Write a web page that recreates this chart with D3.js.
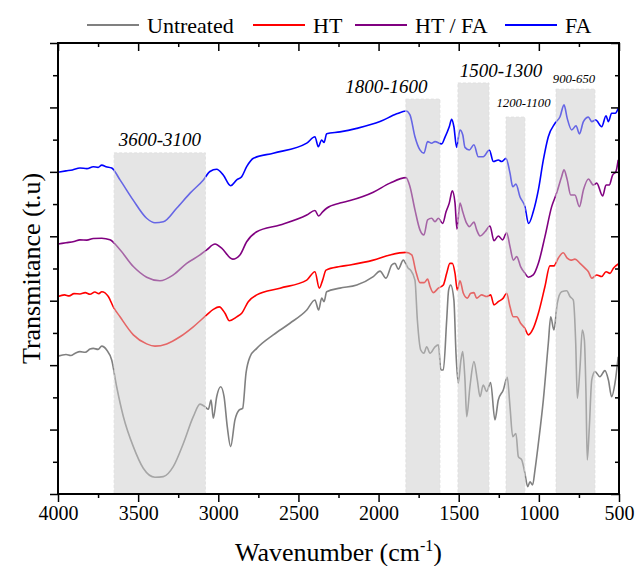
<!DOCTYPE html>
<html>
<head>
<meta charset="utf-8">
<script src="https://cdn.jsdelivr.net/npm/d3@7/dist/d3.min.js"></script>
<style>
  body { margin: 0; background: #fff; }
</style>
</head>
<body>
<div id="chart"></div>
<script>

// series: [wavenumber (cm-1), transmittance (offset, a.u.)]
const untreated = [
  [4000,4.28],[3950,4.33],[3920,4.30],[3890,4.38],[3863,4.42],[3830,4.40],[3800,4.50],[3780,4.52],[3750,4.49],[3727,4.59],[3696,4.47],[3665,4.16],
  [3634,3.33],[3592,2.40],[3530,1.47],[3468,0.80],[3395,0.52],[3343,0.54],[3281,0.85],[3218,1.57],[3156,2.40],[3114,2.79],
  [3083,2.71],[3062,2.63],[3045,2.92],[3031,2.35],[3010,3.02],[2985,3.33],[2964,3.02],[2944,2.09],[2923,1.47],[2896,2.30],
  [2869,2.61],[2848,2.66],[2827,3.75],[2802,4.26],[2760,4.52],[2657,4.94],[2553,5.30],[2448,5.71],[2397,6.02],[2374,5.71],
  [2355,6.08],[2340,5.97],[2324,6.28],[2241,6.39],[2136,6.49],[2033,6.75],[1991,6.92],[1954,6.70],[1918,7.11],[1898,7.16],
  [1877,6.98],[1846,7.26],[1815,7.01],[1800,6.95],[1773,6.64],[1758,5.40],[1737,4.47],[1717,4.37],[1700,4.57],[1679,4.37],
  [1648,4.57],[1627,4.63],[1611,3.85],[1596,3.85],[1575,5.40],[1563,6.33],[1550,6.49],[1530,6.02],[1517,4.37],[1503,3.44],
  [1486,4.16],[1475,4.42],[1461,3.54],[1450,2.40],[1430,3.33],[1405,4.11],[1384,3.54],[1367,3.02],[1347,3.38],[1326,3.18],
  [1301,3.46],[1274,2.30],[1253,2.92],[1222,3.23],[1197,3.62],[1180,2.71],[1163,1.78],[1143,1.88],[1128,1.16],[1107,1.06],
  [1087,0.64],[1070,0.23],[1055,0.38],[1039,0.28],[1024,0.75],[1003,1.57],[972,2.92],[941,4.68],[926,5.50],[906,5.09],
  [885,5.92],[858,6.28],[826,6.31],[806,6.13],[785,6.02],[770,4.68],[760,2.97],[743,3.95],[729,5.09],[716,4.78],[706,3.13],
  [698,1.06],[685,2.09],[670,3.54],[650,3.80],[619,3.64],[588,3.83],[566,3.54],[546,3.02],[525,3.44],[505,4.26]
];

const ht = [
  [4000,6.13],[3960,6.18],[3930,6.15],[3900,6.22],[3863,6.21],[3830,6.25],[3800,6.20],[3770,6.27],[3745,6.22],[3727,6.28],[3686,6.13],[3655,5.81],
  [3613,5.50],[3530,4.94],[3447,4.66],[3395,4.59],[3322,4.66],[3239,4.88],[3156,5.19],[3072,5.56],[3031,5.73],[2994,5.81],
  [2958,5.61],[2931,5.38],[2885,5.50],[2854,5.61],[2813,5.97],[2760,6.18],[2615,6.39],[2448,6.64],[2397,6.90],[2370,6.39],
  [2349,6.64],[2328,6.95],[2241,7.06],[2178,7.11],[2033,7.26],[1929,7.42],[1829,7.50],[1793,7.42],[1767,6.90],[1742,6.56],
  [1715,6.56],[1694,6.67],[1679,6.44],[1659,6.25],[1627,6.39],[1596,6.49],[1575,6.85],[1555,7.16],[1540,7.16],[1523,6.85],
  [1509,6.33],[1492,6.62],[1471,6.23],[1446,6.08],[1425,6.23],[1405,6.25],[1388,6.08],[1357,6.18],[1326,6.13],[1301,6.18],
  [1280,5.87],[1253,5.97],[1222,6.08],[1201,6.23],[1180,5.81],[1159,5.50],[1138,5.50],[1114,5.30],[1087,5.14],[1066,4.94],
  [1035,5.14],[1003,5.61],[962,6.44],[931,7.08],[906,7.08],[879,7.32],[848,7.49],[823,7.32],[801,7.26],[775,7.29],[743,7.16],
  [712,7.01],[691,6.90],[670,6.70],[639,6.80],[608,6.75],[581,6.90],[556,6.85],[535,7.01],[505,7.14]
];

const htfa = [
  [4000,7.76],[3950,7.80],[3900,7.84],[3863,7.89],[3820,7.88],[3780,7.93],[3727,7.94],[3676,7.89],[3613,7.58],[3530,7.06],
  [3447,6.73],[3364,6.62],[3281,6.80],[3197,7.16],[3114,7.42],[3072,7.58],[3020,7.76],[2979,7.63],[2910,7.29],[2865,7.42],
  [2823,7.83],[2760,8.14],[2615,8.35],[2448,8.66],[2397,8.80],[2374,8.63],[2349,8.76],[2324,8.87],[2241,9.03],[2178,9.11],
  [2033,9.37],[1929,9.65],[1829,9.82],[1804,9.54],[1773,8.82],[1742,8.20],[1717,8.04],[1694,8.51],[1669,8.56],[1648,8.45],
  [1627,8.56],[1600,8.40],[1579,8.76],[1559,9.03],[1540,9.41],[1523,9.03],[1511,8.22],[1492,9.03],[1475,8.76],[1450,8.40],
  [1434,8.30],[1405,8.44],[1388,8.20],[1367,8.01],[1336,8.14],[1305,8.32],[1280,7.86],[1253,8.01],[1226,7.89],[1201,8.11],
  [1180,7.68],[1159,7.26],[1138,7.37],[1114,7.06],[1087,6.85],[1066,6.73],[1035,6.80],[1003,7.16],[962,7.99],[920,8.92],
  [889,9.34],[858,9.85],[843,10.06],[823,9.75],[801,9.28],[775,9.28],[747,8.92],[722,9.44],[691,9.78],[660,9.59],[639,9.65],
  [602,9.25],[581,9.59],[561,9.59],[540,9.90],[519,10.01],[505,10.37]
];

const fa = [
  [4000,9.99],[3950,10.03],[3910,10.06],[3863,10.12],[3820,10.10],[3780,10.16],[3750,10.14],[3727,10.21],[3700,10.16],[3665,10.12],
  [3613,9.75],[3532,9.13],[3447,8.56],[3395,8.42],[3343,8.45],[3260,8.87],[3176,9.34],[3093,9.75],[3052,10.01],[3010,10.08],
  [2969,9.90],[2923,9.57],[2885,9.75],[2854,9.85],[2823,10.16],[2781,10.42],[2657,10.58],[2448,10.89],[2397,11.09],[2376,10.78],
  [2355,10.99],[2340,10.91],[2324,11.18],[2241,11.24],[2136,11.35],[1991,11.56],[1887,11.80],[1829,11.89],[1804,11.77],
  [1773,11.09],[1742,10.68],[1717,10.58],[1694,10.94],[1669,10.89],[1648,10.94],[1606,10.87],[1586,11.07],[1559,11.40],
  [1544,11.63],[1530,11.40],[1513,10.76],[1492,11.30],[1475,11.15],[1461,10.76],[1434,10.68],[1405,10.84],[1378,10.47],
  [1347,10.47],[1309,10.68],[1284,10.32],[1253,10.37],[1232,10.32],[1205,10.42],[1180,9.96],[1163,9.54],[1143,9.62],
  [1118,9.23],[1087,8.92],[1064,8.40],[1035,8.76],[1003,9.44],[972,10.37],[941,11.09],[899,11.51],[868,11.71],[843,12.08],
  [823,11.66],[795,11.30],[768,11.43],[747,11.18],[722,11.56],[691,11.70],[670,11.56],[645,11.61],[608,11.40],[581,11.74],
  [566,11.56],[546,11.82],[523,11.82],[505,11.97]
];

const seriesNames = ["Untreated", "HT", "HT / FA", "FA"];
const seriesColors = ["#808080", "#ff0000", "#800080", "#0000ff"];

// shaded bands: [from, to] in cm-1, top of band, label
const bandRanges = [[3650, 3080], [1830, 1617], [1505, 1311], [1205, 1087], [893, 650]];
const bandTops = [10.59, 12.26, 12.76, 11.70, 12.57];
const bandLabels = ["3600-3100", "1800-1600", "1500-1300", "1200-1100", "900-650"];
const bandLabelAt = [3364, 1951, 1236, 1096, 781];

const xMajor = [4000, 3500, 3000, 2500, 2000, 1500, 1000, 500];
const xMinor = [3750, 3250, 2750, 2250, 1750, 1250, 750];

const W = 644, H = 566;
const m = {t: 43, r: 25, b: 72, l: 58};
const serif = '"Liberation Serif", "Times New Roman", Times, "DejaVu Serif", serif';

const svg = d3.select("#chart").append("svg")
  .attr("width", W)
  .attr("height", H)
  .attr("font-family", serif);

const x = d3.scaleLinear().domain([4000, 500]).range([m.l, W - m.r]);
const y = d3.scaleLinear().domain([0, 14]).range([H - m.b, m.t]);

const yMajor = d3.range(0, 15, 2);
const yMinor = d3.range(1, 14, 2);

const line = d3.line()
  .x(d => x(d[0]))
  .y(d => y(d[1]))
  .curve(d3.curveMonotoneX);

// curves
const allSeries = [untreated, ht, htfa, fa];
svg.append("g")
  .selectAll("path")
  .data(allSeries)
  .join("path")
  .attr("d", line)
  .attr("fill", "none")
  .attr("stroke", (d, i) => seriesColors[i])
  .attr("stroke-width", 1.6)
  .attr("stroke-linejoin", "round");

// bands over the curves
svg.append("g")
  .selectAll("rect")
  .data(bandRanges)
  .join("rect")
  .attr("x", d => x(d[0]))
  .attr("width", d => x(d[1]) - x(d[0]))
  .attr("y", (d, i) => y(bandTops[i]))
  .attr("height", (d, i) => y(0) - y(bandTops[i]))
  .attr("fill", "#cccccc")
  .attr("fill-opacity", 0.5)
  .attr("stroke", "#dddddd")
  .attr("stroke-width", 0.8)
  .attr("stroke-dasharray", "3,2");

const labelSize = [19, 19, 19, 12.7, 12.7];
const labelGap = [7, 6, 6, 10, 6];
svg.append("g")
  .selectAll("text")
  .data(bandLabels)
  .join("text")
  .attr("x", (d, i) => x(bandLabelAt[i]))
  .attr("y", (d, i) => y(bandTops[i]) - labelGap[i])
  .attr("text-anchor", "middle")
  .attr("font-family", serif)
  .attr("font-style", "italic")
  .attr("font-size", (d, i) => labelSize[i])
  .text(d => d);

// axes
const fmt = d3.format("d");
const axB = svg.append("g").attr("transform", `translate(0,${y(0)})`);
axB.call(d3.axisBottom(x).tickValues(xMajor).tickFormat(fmt).tickSize(8).tickPadding(4));
axB.append("g").call(d3.axisBottom(x).tickValues(xMinor).tickFormat("").tickSize(4));

const axT = svg.append("g").attr("transform", `translate(0,${y(14)})`);
axT.call(d3.axisTop(x).tickValues(xMajor).tickFormat("").tickSize(-8));
axT.append("g").call(d3.axisTop(x).tickValues(xMinor).tickFormat("").tickSize(-4));

const axL = svg.append("g").attr("transform", `translate(${x(4000)},0)`);
axL.call(d3.axisLeft(y).tickValues(yMajor).tickFormat("").tickSize(8));
axL.append("g").call(d3.axisLeft(y).tickValues(yMinor).tickFormat("").tickSize(5));

const axR = svg.append("g").attr("transform", `translate(${x(500)},0)`);
axR.call(d3.axisRight(y).tickValues(yMajor).tickFormat("").tickSize(-8));
axR.append("g").call(d3.axisRight(y).tickValues(yMinor).tickFormat("").tickSize(-4));

svg.selectAll(".domain").remove();
svg.selectAll("g").filter(function() { return this.hasAttribute("font-family"); })
  .attr("font-family", serif);
svg.selectAll(".tick line").attr("stroke", "#000").attr("stroke-width", 1.5);
svg.selectAll(".tick text")
  .attr("font-size", 20)
  .attr("fill", "#000");

// plot frame
const x0 = x(4000), x1 = x(500), y0 = y(0), y1 = y(14);
svg.append("g")
  .selectAll("line")
  .data([[x0, y1, x1, y1], [x1, y1, x1, y0], [x0, y0, x1, y0], [x0, y1, x0, y0]])
  .join("line")
  .attr("x1", d => d[0]).attr("y1", d => d[1])
  .attr("x2", d => d[2]).attr("y2", d => d[3])
  .attr("stroke", "#000")
  .attr("stroke-width", 2)
  .attr("stroke-linecap", "square");

// axis titles
const xt = svg.append("text")
  .attr("x", (x0 + x1) / 2)
  .attr("y", 561)
  .attr("text-anchor", "middle")
  .attr("font-family", serif)
  .attr("font-size", 26);
xt.append("tspan").text("Wavenumber (cm");
xt.append("tspan").attr("dy", -10).attr("font-size", 16).text("-1");
xt.append("tspan").attr("dy", 10).text(")");

svg.append("text")
  .attr("transform", `translate(40,${(y0 + y1) / 2}) rotate(-90)`)
  .attr("text-anchor", "middle")
  .attr("font-family", serif)
  .attr("font-size", 26)
  .text("Transmitance (t.u)");

// legend
const legendX = [87, 253, 355, 505];
const leg = svg.append("g")
  .selectAll("g")
  .data(seriesNames)
  .join("g")
  .attr("transform", (d, i) => `translate(${legendX[i]},25)`);
leg.append("line")
  .attr("x1", 0).attr("x2", 52)
  .attr("stroke", (d, i) => seriesColors[i])
  .attr("stroke-width", 2);
leg.append("text")
  .attr("x", 60)
  .attr("y", 7.5)
  .attr("font-family", serif)
  .attr("font-size", 22)
  .text(d => d);

</script>
</body>
</html>
